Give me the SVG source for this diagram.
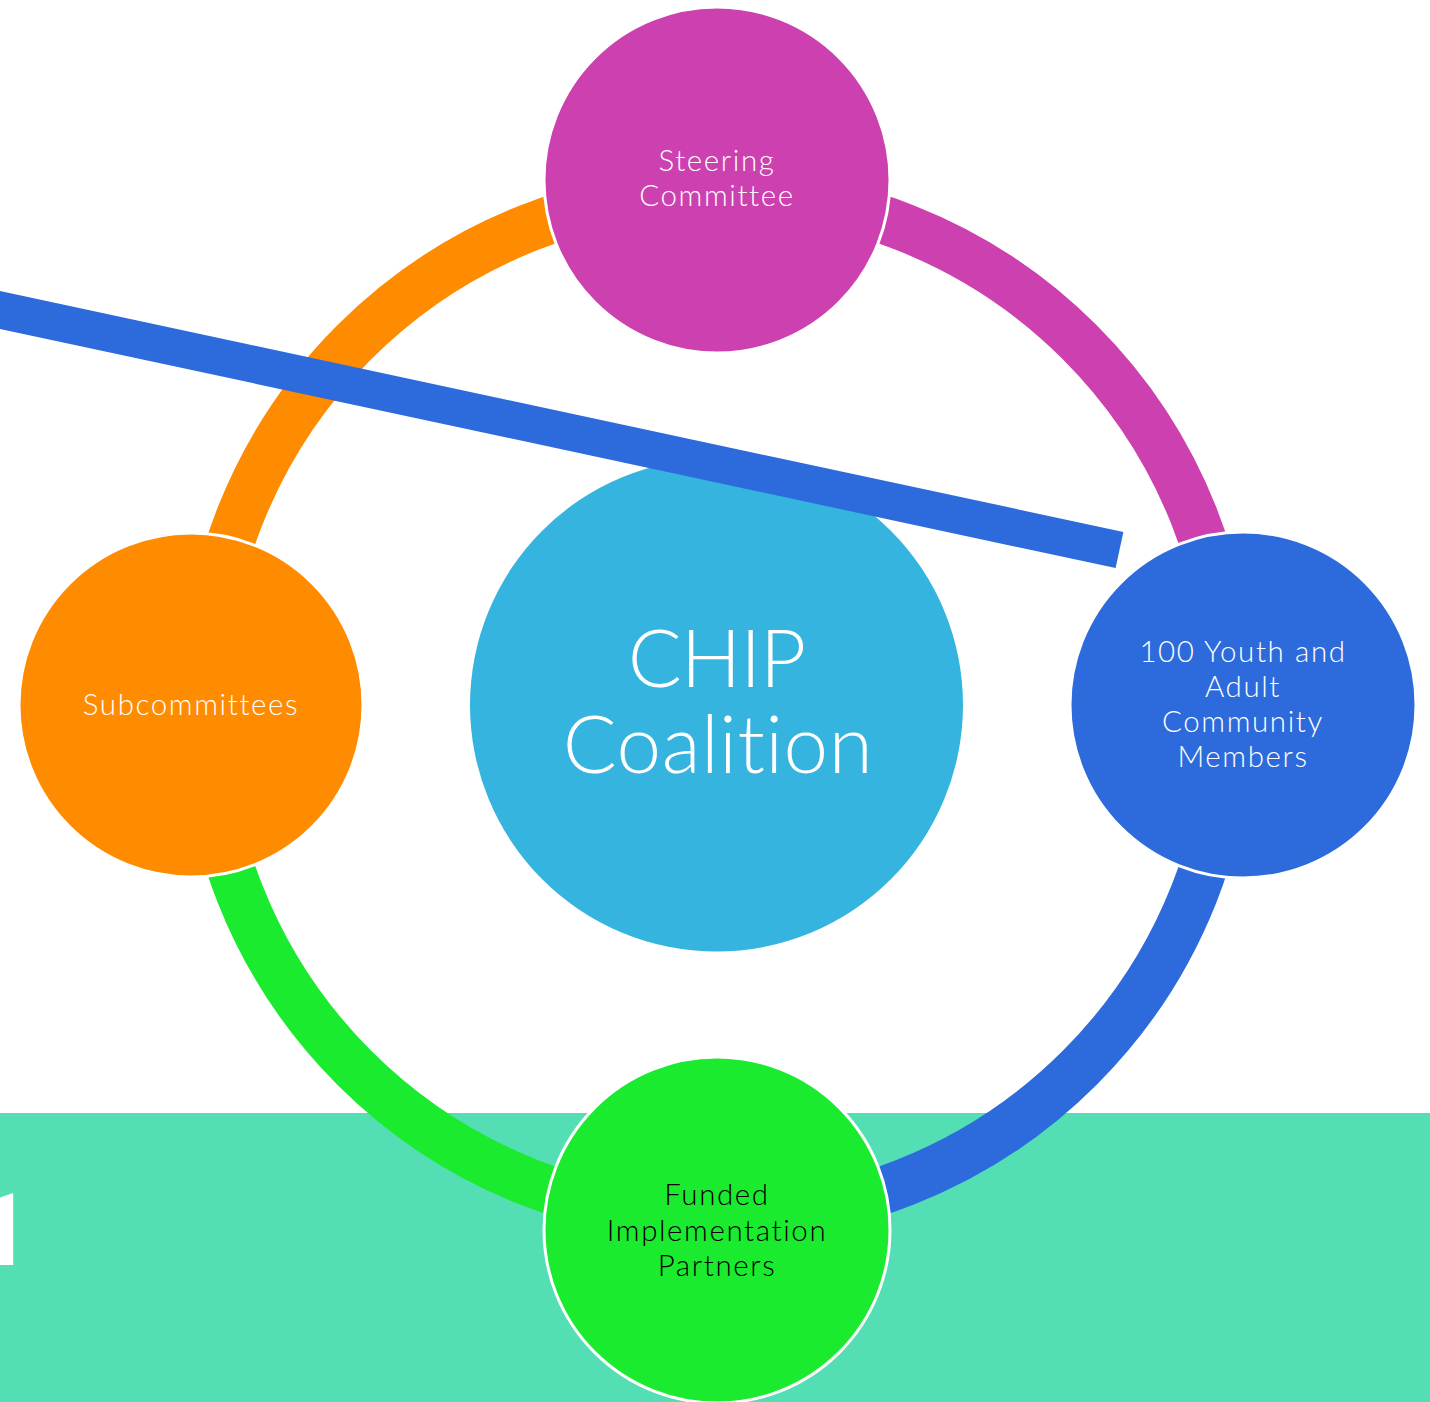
<svg xmlns="http://www.w3.org/2000/svg" width="1430" height="1402" viewBox="0 0 1430 1402">
<style>
.node{stroke:#fff;stroke-width:3}
.arc{fill:none;stroke-width:48}
.lbl{font-family:Lato,"Noto Sans","Liberation Sans",sans-serif;font-size:29.5px;font-weight:300;letter-spacing:1.6px;text-anchor:middle;fill:#fff;font-variant-ligatures:none}
.big{font-family:Lato,"Noto Sans","Liberation Sans",sans-serif;font-size:80px;font-weight:300;text-anchor:middle;fill:#fff;font-variant-ligatures:none}
.dark{fill:#000}
.frag{font-family:Roboto,"Open Sans",sans-serif;font-weight:700;font-size:100px;fill:#fff}
</style>
<rect x="0" y="1113" width="1430" height="289" fill="#54DEB4"/>
<text class="frag" x="-26" y="1265">1</text>
<g id="connectors">
<path class="arc" stroke="#FF8B00" d="M204 705 A513 513 0 0 1 717 192"/>
<path class="arc" stroke="#CC41AF" d="M717 192 A513 513 0 0 1 1230 705"/>
<path class="arc" stroke="#2D6BDC" d="M1230 705 A513 513 0 0 1 717 1218"/>
<path class="arc" stroke="#1BEB2F" d="M717 1218 A513 513 0 0 1 204 705"/>
</g>
<g id="center">
<circle cx="716.5" cy="705" r="246.5" fill="#34B4DF"/>
<text class="big" x="716.5" y="687" letter-spacing="-1">CHIP</text>
<text class="big" x="718" y="773" letter-spacing="0.5">Coalition</text>
</g>
<line x1="-10" y1="307.9" x2="1119.5" y2="550" stroke="#2D6BDC" stroke-width="37"/>
<g id="steering">
<circle class="node" cx="717" cy="180" r="173" fill="#CC41AF"/>
<text class="lbl" x="717" y="171">Steering</text>
<text class="lbl" x="717" y="206">Committee</text>
</g>
<g id="members">
<circle class="node" cx="1243" cy="705" r="173" fill="#2D6BDC"/>
<text class="lbl" x="1243" y="662">100 Youth and</text>
<text class="lbl" x="1243" y="697">Adult</text>
<text class="lbl" x="1243" y="732">Community</text>
<text class="lbl" x="1243" y="767">Members</text>
</g>
<g id="partners">
<circle class="node" cx="717" cy="1230" r="173" fill="#1BEB2F"/>
<text class="lbl dark" x="717" y="1205">Funded</text>
<text class="lbl dark" x="717" y="1241">Implementation</text>
<text class="lbl dark" x="717" y="1276">Partners</text>
</g>
<g id="subcommittees">
<circle class="node" cx="191" cy="705" r="172" fill="#FF8B00"/>
<text class="lbl" x="191" y="715">Subcommittees</text>
</g>
</svg>
